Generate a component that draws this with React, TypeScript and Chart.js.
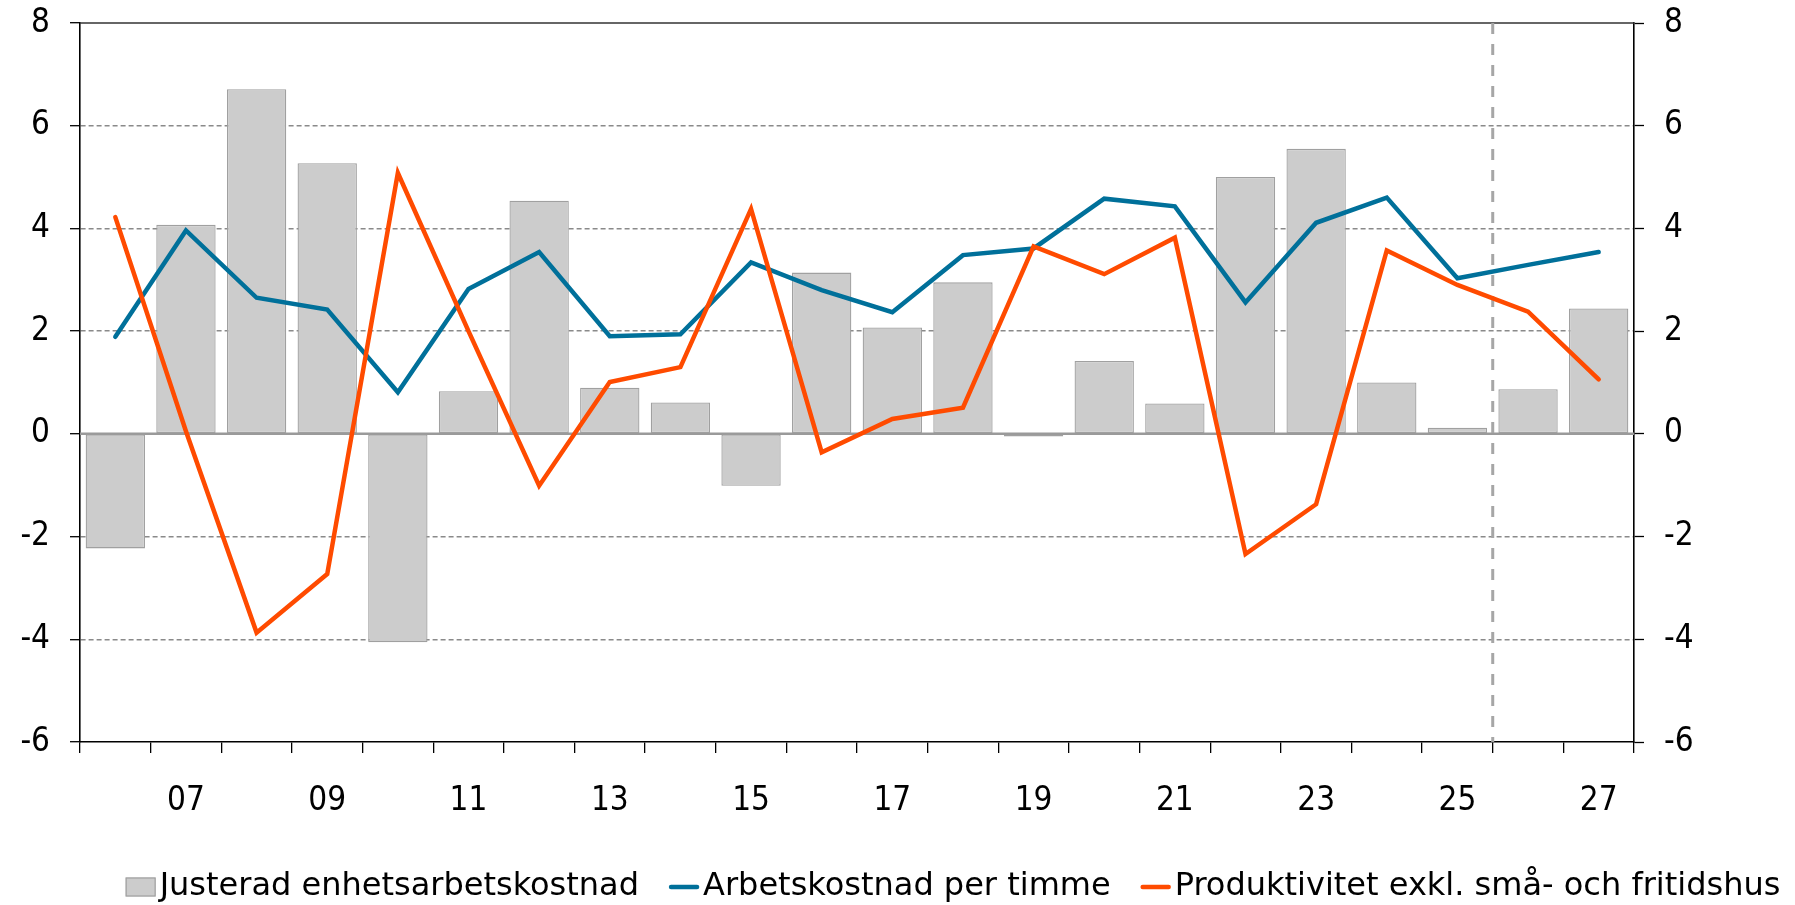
import React, { useEffect, useRef } from 'react';
import { Chart, registerables } from 'chart.js';

Chart.register(...registerables);

// ---- Data ----
const years = ['06', '07', '08', '09', '10', '11', '12', '13', '14', '15', '16', '17', '18', '19', '20', '21', '22', '23', '24', '25', '26', '27'];

const unitLabourCost = [-2.23, 4.07, 6.71, 5.27, -4.06, 0.83, 4.54, 0.9, 0.61, -1.01, 3.14, 2.07, 2.95, -0.05, 1.42, 0.59, 5.0, 5.55, 1.0, 0.12, 0.87, 2.44];

const hourlyLabourCost = [1.89, 3.96, 2.65, 2.42, 0.81, 2.82, 3.54, 1.9, 1.94, 3.34, 2.8, 2.37, 3.48, 3.61, 4.58, 4.43, 2.56, 4.11, 4.6, 3.03, 3.29, 3.54];

const productivity = [4.22, 0.05, -3.87, -2.73, 5.08, 2.0, -1.01, 1.01, 1.3, 4.38, -0.36, 0.29, 0.51, 3.65, 3.11, 3.82, -2.34, -1.37, 3.57, 2.9, 2.38, 1.06];

const seriesNames = ['Justerad enhetsarbetskostnad', 'Arbetskostnad per timme', 'Produktivitet exkl. små- och fritidshus'];

const yMin = -6;
const yMax = 8;
const yStep = 2;
const forecastStartIndex = 20; // first forecast year (26)

const FONT = '"DejaVu Sans", Verdana, sans-serif';
const TICK_FONT = '"DejaVu Sans Condensed", "DejaVu Sans", Verdana, sans-serif';
const TICK_SIZE = 33;
const BAR_FILL = '#cccccc';
const BAR_EDGE = '#a0a0a0';
const BLUE = '#00709a';
const ORANGE = '#ff4b00';

const refLinesPlugin = {
  id: 'refLines',
  beforeDatasetsDraw(chart: any) {
    const { ctx, chartArea, scales } = chart;
    const y = scales.y;
    const x = scales.x;
    ctx.save();
    // zero line
    const y0 = y.getPixelForValue(0);
    ctx.strokeStyle = '#9a9a9a';
    ctx.lineWidth = 2.5;
    ctx.beginPath();
    ctx.moveTo(chartArea.left, y0);
    ctx.lineTo(chartArea.right, y0);
    ctx.stroke();
    // top line
    const yt = y.getPixelForValue(yMax);
    ctx.strokeStyle = '#333333';
    ctx.lineWidth = 1.5;
    ctx.beginPath();
    ctx.moveTo(chartArea.left, yt);
    ctx.lineTo(chartArea.right, yt);
    ctx.stroke();
    // forecast divider
    const xd = (x.getPixelForValue(forecastStartIndex - 1) + x.getPixelForValue(forecastStartIndex)) / 2;
    ctx.setLineDash([11, 10]);
    ctx.strokeStyle = '#a6a6a6';
    ctx.lineWidth = 3;
    ctx.beginPath();
    ctx.moveTo(xd, chartArea.top);
    ctx.lineTo(xd, chartArea.bottom);
    ctx.stroke();
    ctx.restore();
  },
};

const legendPlugin = {
  id: 'customLegend',
  afterDraw(chart: any) {
    const ctx = chart.ctx;
    ctx.save();
    ctx.font = `32px ${FONT}`;
    ctx.textBaseline = 'middle';
    ctx.fillStyle = '#000';
    const kinds = ['box', 'line', 'line'];
    const colors = [BAR_FILL, BLUE, ORANGE];
    const boxW = 30;
    const gapText = 4;
    const gapItem = 30;
    const widths = seriesNames.map((t) => boxW + gapText + ctx.measureText(t).width);
    const total = widths.reduce((a, b) => a + b, 0) + gapItem * (seriesNames.length - 1);
    const centerX = 953;
    const cy = 887;
    let x = centerX - total / 2;
    seriesNames.forEach((t, i) => {
      if (kinds[i] === 'box') {
        ctx.fillStyle = BAR_FILL;
        ctx.fillRect(x, cy - 9.5, boxW, 19);
        ctx.strokeStyle = BAR_EDGE;
        ctx.lineWidth = 1.2;
        ctx.strokeRect(x + 0.5, cy - 9, boxW - 1, 18);
      } else {
        ctx.strokeStyle = colors[i];
        ctx.lineWidth = 4.5;
        ctx.lineCap = 'round';
        ctx.beginPath();
        ctx.moveTo(x + 2, cy);
        ctx.lineTo(x + boxW - 2, cy);
        ctx.stroke();
      }
      ctx.fillStyle = '#000';
      ctx.fillText(t, x + boxW + gapText, cy);
      x += widths[i] + gapItem;
    });
    ctx.restore();
  },
};

export default function App() {
  const canvasRef = useRef<HTMLCanvasElement | null>(null);

  useEffect(() => {
    if (!canvasRef.current) return;
    const tickFont = { family: TICK_FONT, size: TICK_SIZE };
    const chart = new Chart(canvasRef.current, {
      type: 'bar',
      data: {
        labels: years,
        datasets: [
          {
            type: 'bar',
            label: seriesNames[0],
            data: unitLabourCost,
            backgroundColor: BAR_FILL,
            borderColor: BAR_EDGE,
            borderWidth: 1.3,
            borderSkipped: false,
            barPercentage: 0.84,
            categoryPercentage: 1,
            yAxisID: 'y',
            order: 3,
          },
          {
            type: 'line',
            label: seriesNames[1],
            data: hourlyLabourCost,
            borderColor: BLUE,
            backgroundColor: BLUE,
            borderWidth: 4.5,
            pointRadius: 0,
            tension: 0,
            borderCapStyle: 'round',
            borderJoinStyle: 'miter',
            yAxisID: 'y',
            order: 2,
          },
          {
            type: 'line',
            label: seriesNames[2],
            data: productivity,
            borderColor: ORANGE,
            backgroundColor: ORANGE,
            borderWidth: 4.5,
            pointRadius: 0,
            tension: 0,
            borderCapStyle: 'round',
            borderJoinStyle: 'miter',
            yAxisID: 'y',
            order: 1,
          },
        ] as any,
      },
      options: {
        animation: false,
        responsive: false,
        maintainAspectRatio: false,
        devicePixelRatio: 1,
        layout: { padding: { top: 23, left: 0, right: 0, bottom: 0 } },
        plugins: {
          legend: { display: false },
          tooltip: { enabled: false },
        },
        scales: {
          x: {
            type: 'category',
            offset: true,
            grid: {
              display: true,
              drawOnChartArea: false,
              drawTicks: true,
              tickLength: 11,
              offset: true,
              color: '#000',
              tickColor: '#000',
              lineWidth: 1.3,
            },
            border: { display: true, color: '#000', width: 1.6 },
            ticks: {
              autoSkip: false,
              maxRotation: 0,
              minRotation: 0,
              padding: 29,
              color: '#000',
              font: tickFont,
              callback: (_v: any, i: number) => (i % 2 === 1 ? years[i] : ''),
            },
            afterFit: (s: any) => {
              s.height = 163;
              s.paddingLeft = 0;
              s.paddingRight = 0;
            },
          },
          y: {
            position: 'left',
            min: yMin,
            max: yMax,
            ticks: { stepSize: yStep, padding: 20, color: '#000', font: tickFont },
            grid: {
              color: (c: any) => {
                const v = c.tick ? c.tick.value : null;
                return v === 0 || v === yMax || v === yMin ? 'rgba(0,0,0,0)' : '#8a8a8a';
              },
              lineWidth: 1.4,
              drawTicks: true,
              tickLength: 10,
              tickColor: '#000',
              tickWidth: 1.3,
            },
            border: { display: true, color: '#000', width: 1.6, dash: [5, 3] },
            afterFit: (s: any) => {
              s.width = 80;
              s.paddingTop = 0;
              s.paddingBottom = 0;
            },
          },
          y2: {
            position: 'right',
            min: yMin,
            max: yMax,
            ticks: { stepSize: yStep, padding: 20, color: '#000', font: tickFont },
            grid: {
              drawOnChartArea: false,
              drawTicks: true,
              tickLength: 10,
              color: '#000',
              tickColor: '#000',
              tickWidth: 1.3,
            },
            border: { display: true, color: '#000', width: 1.6 },
            afterFit: (s: any) => {
              s.width = 161;
              s.paddingTop = 0;
              s.paddingBottom = 0;
            },
          },
        },
      } as any,
      plugins: [refLinesPlugin, legendPlugin],
    });
    return () => {
      chart.destroy();
    };
  }, []);

  return (
    <div style={{ position: 'fixed', left: 0, top: 0, width: 1795, height: 905, background: '#fff' }}>
      <canvas ref={canvasRef} width={1795} height={905} style={{ display: 'block', width: 1795, height: 905 }} />
    </div>
  );
}
